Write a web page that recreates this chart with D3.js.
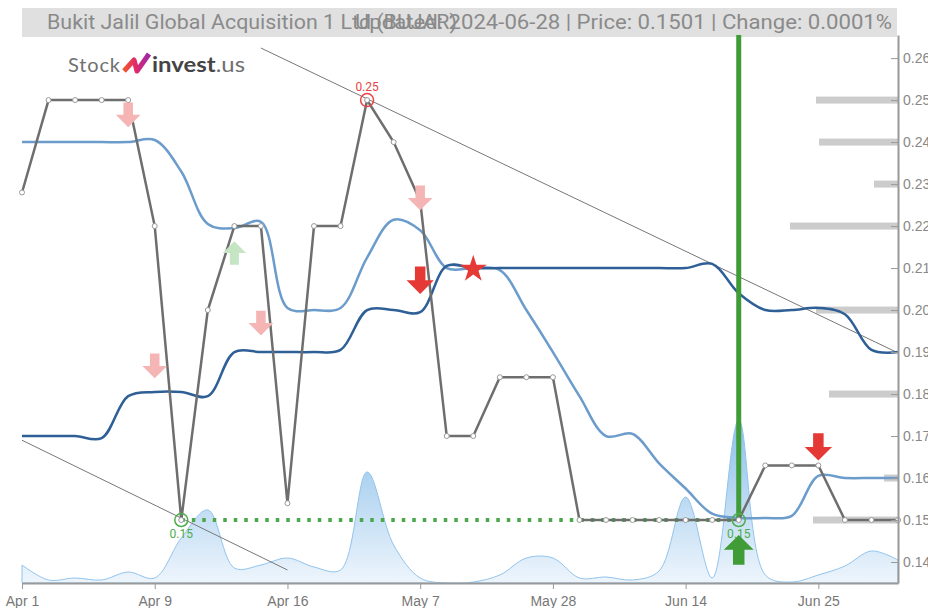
<!DOCTYPE html>
<html>
<head>
<meta charset="utf-8">
<script src="https://cdn.jsdelivr.net/npm/d3@7"></script>
<style>
  body { margin: 0; background: #fff; }
  svg { display: block; font-family: Roboto, "Liberation Sans", sans-serif; }
</style>
</head>
<body>
<svg id="chart"></svg>
<script>
// trading days shown on the chart
const dates = ["Apr 1", "Apr 2", "Apr 3", "Apr 4", "Apr 5", "Apr 9", "Apr 10", "Apr 11", "Apr 12", "Apr 15",
  "Apr 16", "Apr 17", "Apr 18", "Apr 19", "Apr 30", "May 7", "May 8", "May 13", "May 15", "May 21",
  "May 28", "May 29", "Jun 3", "Jun 6", "Jun 11", "Jun 14", "Jun 18", "Jun 19", "Jun 20", "Jun 24",
  "Jun 25", "Jun 26", "Jun 27", "Jun 28"];
const tickLabels = ["Apr 1", "Apr 9", "Apr 16", "May 7", "May 28", "Jun 14", "Jun 25"];
const priceTicks = [0.14, 0.15, 0.16, 0.17, 0.18, 0.19, 0.20, 0.21, 0.22, 0.23, 0.24, 0.25, 0.26];

const price = [0.228, 0.25, 0.25, 0.25, 0.25, 0.22, 0.15, 0.20, 0.22, 0.22,
  0.154, 0.22, 0.22, 0.25, 0.24, 0.226, 0.17, 0.17, 0.184, 0.184,
  0.184, 0.15, 0.15, 0.15, 0.15, 0.15, 0.15, 0.15, 0.163, 0.163,
  0.163, 0.15, 0.15, 0.15];
const maShort = [0.24, 0.24, 0.24, 0.24, 0.24, 0.2405, 0.233, 0.2205, 0.2195, 0.221,
  0.2005, 0.2, 0.2005, 0.2125, 0.2215, 0.219, 0.21, 0.21, 0.2095, 0.2,
  0.19, 0.1795, 0.17, 0.1705, 0.1635, 0.1575, 0.1515, 0.1505, 0.1505, 0.151,
  0.1605, 0.16, 0.16, 0.16];
const maLong = [0.17, 0.17, 0.17, 0.1695, 0.1795, 0.1805, 0.1805, 0.1795, 0.19, 0.19,
  0.19, 0.19, 0.1905, 0.2, 0.2, 0.1995, 0.2105, 0.21, 0.21, 0.21,
  0.21, 0.21, 0.21, 0.21, 0.21, 0.21, 0.211, 0.204, 0.2, 0.2,
  0.2005, 0.199, 0.1905, 0.19];
// volume, thousands of shares
const volume = [18, 3, 5, 3, 11, 5, 45, 73, 15, 18,
  25, 16, 13, 111, 38, 5, 0, 1, 8, 25,
  25, 5, 6, 3, 12, 86, 5, 163, 8, 1,
  8, 17, 32, 23];

// price levels on the right (volume at price)
const levelPrices = [0.25, 0.24, 0.23, 0.22, 0.20, 0.18, 0.16, 0.15];
const levelWeights = [82, 79, 24, 108, 82, 69, 14, 85];

// buy / sell signals: day index, price, kind
const signalDays = [4, 5, 9, 15, 8, 15, 30, 27];
const signalPrices = [0.2465, 0.1867, 0.1969, 0.2267, 0.2136, 0.2071, 0.1674, 0.1429];
const signalKinds = ["weakSell", "weakSell", "weakSell", "weakSell", "weakBuy", "sell", "sell", "buy"];

const trendHigh = [[9, 0.2624], [33, 0.1898]];
const trendLow = [[0, 0.169], [10, 0.1381]];

const title = "Bukit Jalil Global Acquisition 1 Ltd (BUJAR)";
const subtitle = "Updated: 2024-06-28 | Price: 0.1501 | Change: 0.0001%";

const width = 928, height = 608;
const plotL = 22, plotR = 898, plotT = 35, plotB = 583;

const svg = d3.select("#chart").attr("width", width).attr("height", height);
const defs = svg.append("defs");

const x = d3.scalePoint().domain(d3.range(dates.length)).range([plotL, plotR]);
const y = d3.scaleLinear().domain([0.135, 0.2655]).range([plotB, plotT]);
const yVol = d3.scaleLinear().domain([0, d3.max(volume)]).range([plotB, 420]);
const wLevel = d3.scaleLinear().domain([0, 108]).range([0, 108]);

// title bar
svg.append("rect")
  .attr("x", plotL).attr("y", 8).attr("width", plotR - plotL - 1).attr("height", 29)
  .attr("fill", "#e0e0e0");
svg.append("text")
  .attr("x", 47).attr("y", 29)
  .attr("font-size", 20).attr("fill", "#8a8a8a")
  .attr("textLength", 410).attr("lengthAdjust", "spacingAndGlyphs")
  .text(title);
svg.append("text")
  .attr("x", 355).attr("y", 29)
  .attr("font-size", 20).attr("fill", "#8a8a8a")
  .attr("textLength", 537).attr("lengthAdjust", "spacingAndGlyphs")
  .text(subtitle);

// logo
const lg = defs.append("linearGradient").attr("id", "logoGrad")
  .attr("x1", "0%").attr("x2", "100%").attr("y1", "0%").attr("y2", "0%");
lg.append("stop").attr("offset", "0%").attr("stop-color", "#f0562e");
lg.append("stop").attr("offset", "50%").attr("stop-color", "#e0266f");
lg.append("stop").attr("offset", "100%").attr("stop-color", "#9c2aa6");
const logo = svg.append("g");
logo.append("text").attr("x", 68).attr("y", 72).attr("font-size", 20)
  .attr("font-family", "Lato, sans-serif").attr("fill", "#707070")
  .attr("textLength", 52).text("Stock");
logo.append("path")
  .attr("d", "M124,71 L134,60 L137,71 L149,54")
  .attr("fill", "none").attr("stroke", "url(#logoGrad)")
  .attr("stroke-width", 5).attr("stroke-linejoin", "round");
const lt = logo.append("text").attr("x", 152).attr("y", 72).attr("font-size", 21)
  .attr("font-family", "Lato, sans-serif")
  .attr("textLength", 93).attr("lengthAdjust", "spacingAndGlyphs");
lt.append("tspan").attr("font-weight", "bold").attr("fill", "#444").text("invest");
lt.append("tspan").attr("fill", "#707070").text(".us");

// volume area
const vg = defs.append("linearGradient").attr("id", "volGrad")
  .attr("gradientUnits", "userSpaceOnUse")
  .attr("x1", 0).attr("x2", 0).attr("y1", 420).attr("y2", plotB);
vg.append("stop").attr("offset", "0%").attr("stop-color", "#8cc0ea");
vg.append("stop").attr("offset", "100%").attr("stop-color", "#eef5fc");

svg.append("path")
  .datum(volume)
  .attr("d", d3.area()
    .x((d, i) => x(i)).y0(plotB).y1(d => yVol(d))
    .curve(d3.curveCatmullRom))
  .attr("fill", "url(#volGrad)")
  .attr("stroke", "#92c4ec").attr("stroke-width", 1);

// volume at price levels
svg.append("g").selectAll("rect")
  .data(levelPrices)
  .join("rect")
  .attr("x", (d, i) => plotR - wLevel(levelWeights[i]))
  .attr("y", d => y(d) - 3.5)
  .attr("width", (d, i) => wLevel(levelWeights[i]))
  .attr("height", 7)
  .attr("fill", "#cccccc");

// trend lines
[trendHigh, trendLow].forEach(t => {
  svg.append("line")
    .attr("x1", x(t[0][0])).attr("y1", y(t[0][1]))
    .attr("x2", x(t[1][0])).attr("y2", y(t[1][1]))
    .attr("stroke", "#777").attr("stroke-width", 1);
});

// support line
const lowIdx = 6, buyIdx = 27;
svg.append("line")
  .attr("x1", x(lowIdx)).attr("x2", x(buyIdx))
  .attr("y1", y(0.15)).attr("y2", y(0.15))
  .attr("stroke", "#4aa84a").attr("stroke-width", 4)
  .attr("stroke-dasharray", "3.5,7");

// moving averages
const lineGen = d3.line().x((d, i) => x(i)).y(d => y(d)).curve(d3.curveCatmullRom);
svg.append("path").datum(maShort).attr("d", lineGen)
  .attr("fill", "none").attr("stroke", "#6b9ccb").attr("stroke-width", 2.5);
svg.append("path").datum(maLong).attr("d", lineGen)
  .attr("fill", "none").attr("stroke", "#2e5f96").attr("stroke-width", 2.5);

// buy marker vertical line
svg.append("line")
  .attr("x1", x(buyIdx)).attr("x2", x(buyIdx))
  .attr("y1", plotT).attr("y2", y(0.15))
  .attr("stroke", "#3f9c37").attr("stroke-width", 5);

// price line
svg.append("path").datum(price)
  .attr("d", d3.line().x((d, i) => x(i)).y(d => y(d)))
  .attr("fill", "none").attr("stroke", "#6e6e6e").attr("stroke-width", 2.5);
svg.append("g").selectAll("circle")
  .data(price)
  .join("circle")
  .attr("cx", (d, i) => x(i)).attr("cy", d => y(d))
  .attr("r", 2.5)
  .attr("fill", "#fff").attr("stroke", "#999").attr("stroke-width", 1);

// highlighted highs / lows
const marks = [[6, 0.15, "#4cae4c", 1], [27, 0.15, "#4cae4c", 1], [13, 0.25, "#e94444", -1]];
marks.forEach(([i, p, c, dir]) => {
  svg.append("circle")
    .attr("cx", x(i)).attr("cy", y(p)).attr("r", 6.5)
    .attr("fill", "none").attr("stroke", c).attr("stroke-width", 1.5);
  svg.append("text")
    .attr("x", x(i)).attr("y", dir > 0 ? y(p) + 18 : y(p) - 9)
    .attr("text-anchor", "middle").attr("font-size", 12).attr("fill", c)
    .text(p.toFixed(2));
});

// signal arrows
const arrowDown = "M-5,-13 L5,-13 L5,0 L13,0 L0,13 L-13,0 L-5,0 Z";
const arrowUp = "M-5,13 L5,13 L5,0 L13,0 L0,-13 L-13,0 L-5,0 Z";
const kindStyle = {
  weakSell: { d: arrowDown, fill: "#f5b5b5", s: 0.95 },
  weakBuy: { d: arrowUp, fill: "#c5e5c5", s: 0.9 },
  sell: { d: arrowDown, fill: "#e53935", s: 1.05 },
  buy: { d: arrowUp, fill: "#3f9c37", s: 1.15 }
};
svg.append("g").selectAll("path")
  .data(signalDays)
  .join("path")
  .attr("d", (d, i) => kindStyle[signalKinds[i]].d)
  .attr("transform", (d, i) => `translate(${x(d)},${y(signalPrices[i])}) scale(${kindStyle[signalKinds[i]].s})`)
  .attr("fill", (d, i) => kindStyle[signalKinds[i]].fill);

// star
svg.append("path")
  .attr("d", d3.symbol(d3.symbolStar, 230))
  .attr("transform", `translate(${x(17)},${y(0.21) + 1})`)
  .attr("fill", "#e53935");

// axes
const xAxis = svg.append("g")
  .attr("transform", `translate(0,${plotB})`)
  .call(d3.axisBottom(x)
    .tickValues(tickLabels.map(t => dates.indexOf(t)))
    .tickFormat(i => dates[i])
    .tickSizeOuter(0));
xAxis.select(".domain").attr("stroke", "#999").attr("stroke-width", 2);
xAxis.selectAll(".tick line").attr("stroke", "#999");
xAxis.selectAll(".tick text").attr("fill", "#777").attr("font-size", 14).attr("dy", "1em");

const yAxis = svg.append("g")
  .attr("transform", `translate(${plotR},0)`)
  .call(d3.axisRight(y)
    .tickValues(priceTicks)
    .tickFormat(d3.format(".2f"))
    .tickSize(0)
    .tickPadding(5));
yAxis.select(".domain").attr("stroke", "#999").attr("stroke-width", 2);
yAxis.selectAll(".tick").append("line")
  .attr("x1", -7).attr("x2", 0).attr("stroke", "#999");
yAxis.selectAll(".tick text").attr("fill", "#888").attr("font-size", 14);
</script>
</body>
</html>
